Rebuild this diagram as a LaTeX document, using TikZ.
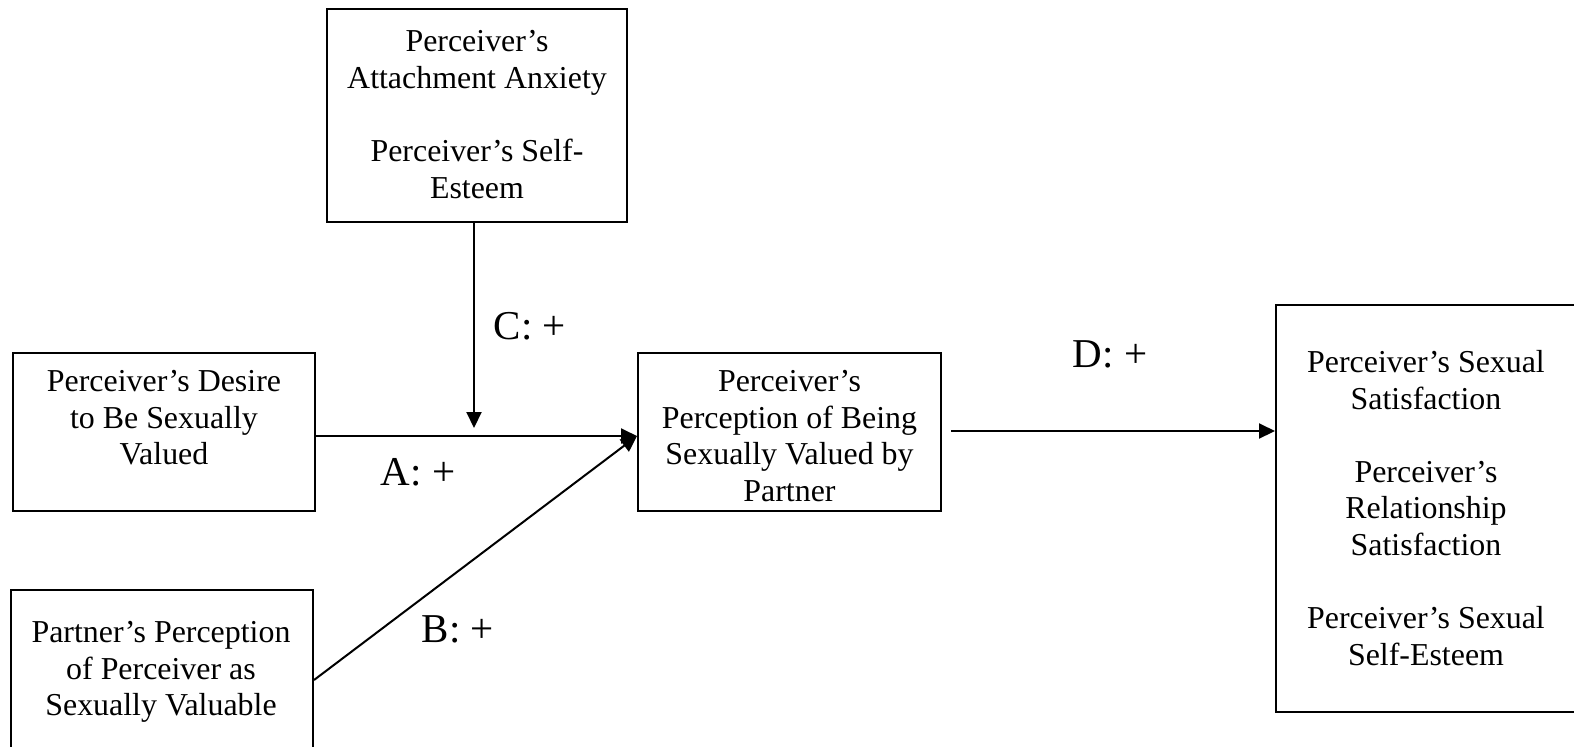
\documentclass[tikz,border=0pt]{standalone}
\usepackage{fontspec}
\setmainfont{Liberation Serif}
\usetikzlibrary{arrows.meta}
\begin{document}
\begin{tikzpicture}[x=0.5pt,y=-0.5pt,
  box/.style={draw=black,line width=1pt,fill=none,inner sep=0pt},
  boxtext/.style={anchor=north,align=center,inner sep=0pt,font=\fontsize{15.95}{18.3}\selectfont},
  pathlabel/.style={anchor=base,inner sep=0pt,font=\fontsize{20.5}{24}\selectfont},
  arr/.style={line width=1pt,-{Triangle[length=8pt,width=7.5pt]}}]
\useasboundingbox (0,0) rectangle (1574,746);
\begin{scope}
\clip (0,0) rectangle (1574,746);
\fill[white] (0,0) rectangle (1574,746);

% boxes
\node[box,minimum width=150pt,minimum height=106.5pt] (mod) at (477,115.5) {};
\node[box,minimum width=151pt,minimum height=79pt] (desire) at (164,432) {};
\node[box,minimum width=151.5pt,minimum height=79pt] (perc) at (789.5,432) {};
\node[box,minimum width=151pt,minimum height=120pt] (partner) at (162,710) {};
\node[box,minimum width=200pt,minimum height=203.5pt] (outc) at (1476,508.5) {};

% box texts
\node[boxtext] (modtxt) at (477,30) {Perceiver’s\\Attachment Anxiety\\[18.3pt]Perceiver’s Self-\\Esteem};
\node[boxtext] (desiretxt) at (164,370) {Perceiver’s Desire\\to Be Sexually\\Valued};
\node[boxtext] (perctxt) at (789.5,370) {Perceiver’s\\Perception of Being\\Sexually Valued by\\Partner};
\node[boxtext] (partnertxt) at (161,621) {Partner’s Perception\\of Perceiver as\\Sexually Valuable};
\node[boxtext] (outctxt) at (1426,350) {Perceiver’s Sexual\\Satisfaction\\[18.3pt]Perceiver’s\\Relationship\\Satisfaction\\[18.3pt]Perceiver’s Sexual\\Self-Esteem};

% connectors
\coordinate (ctip) at (474,428);
\draw[arr] ([yshift=-2pt]desire.east) -- ([yshift=-2pt]perc.west);
\draw[arr] ([yshift=15pt]partner.east) -- ([yshift=-2pt]perc.west);
\draw[arr] ([xshift=-1.5pt]mod.south) -- (ctip);
\draw[arr] ([xshift=4.5pt,yshift=0.5pt]perc.east) -- ([yshift=0.5pt]perc.east -| outc.west);

% path labels
\node[pathlabel] (la) at (418,485) {A: +};
\node[pathlabel] (lb) at (458,642) {B: +};
\node[pathlabel] (lc) at (530,339) {C: +};
\node[pathlabel] (ld) at (1110,367) {D: +};
\end{scope}
\end{tikzpicture}
\end{document}
